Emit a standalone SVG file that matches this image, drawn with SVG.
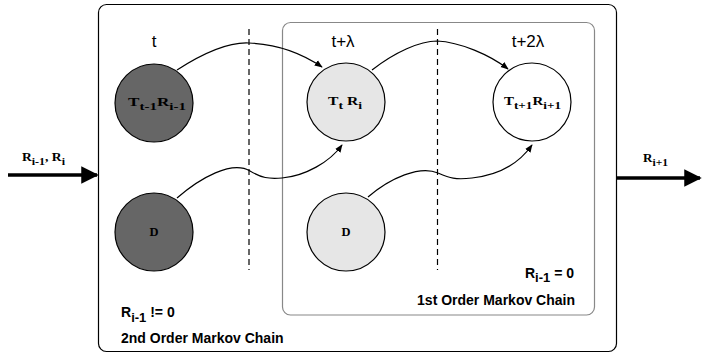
<svg xmlns="http://www.w3.org/2000/svg" width="702" height="356" viewBox="0 0 702 356">
<style>
.node{stroke:#000;stroke-width:1.2}
.dark{fill:#666}
.light{fill:#e6e6e6}
.white{fill:#fff}
.nl{font-family:"Liberation Serif",serif;font-weight:bold;font-size:12.5px;fill:#000}
.sub{font-size:11px}
.time{font-family:"Liberation Sans",Arial,sans-serif;font-size:17px;fill:#000}
.cap{font-family:"Liberation Sans",Arial,sans-serif;font-weight:bold;font-size:14px;fill:#000}
.csub{font-size:13px}
.edge{fill:none;stroke:#000;stroke-width:1.2}
.io{fill:none;stroke:#000;stroke-width:3.5}
.dash{stroke:#000;stroke-width:1.2;stroke-dasharray:6,4}
</style>
<defs>
<marker id="ah" viewBox="0 0 10 10" refX="9" refY="5" markerWidth="8" markerHeight="8" markerUnits="userSpaceOnUse" orient="auto">
<path d="M0,1 L10,5 L0,9 z" fill="#000"/>
</marker>
<marker id="big" viewBox="0 0 10 10" refX="9" refY="5" markerWidth="5" markerHeight="5" orient="auto">
<path d="M0,0 L10,5 L0,10 z" fill="#000"/>
</marker>
</defs>
<g id="outer-box">
<rect x="98.5" y="4.5" width="518" height="347" rx="8" fill="#fff" stroke="#000" stroke-width="1.2"/>
</g>
<g id="inner-box">
<rect x="282.5" y="22.5" width="312" height="292.5" rx="8" fill="none" stroke="#888" stroke-width="1.2"/>
</g>
<g id="dividers">
<line class="dash" x1="249" y1="29" x2="249" y2="270"/>
<line class="dash" x1="437.5" y1="29" x2="437.5" y2="270"/>
</g>
<g id="time-labels">
<text class="time" x="154" y="47" text-anchor="middle">t</text>
<text class="time" x="343" y="47" text-anchor="middle">t+λ</text>
<text class="time" x="528" y="47" text-anchor="middle">t+2λ</text>
</g>
<g id="node-T1">
<circle class="node dark" cx="154" cy="103" r="39"/>
<text class="nl" x="128" y="106" textLength="58" lengthAdjust="spacingAndGlyphs">T<tspan class="sub" dy="4">t-1</tspan><tspan dy="-4">R</tspan><tspan class="sub" dy="4">i-1</tspan></text>
</g>
<g id="node-D1">
<circle class="node dark" cx="154" cy="232" r="39"/>
<text class="nl" x="154" y="236" text-anchor="middle">D</text>
</g>
<g id="node-T2">
<circle class="node light" cx="346" cy="102" r="39"/>
<text class="nl" x="328" y="105" textLength="34" lengthAdjust="spacingAndGlyphs">T<tspan class="sub" dy="4">t</tspan><tspan dy="-4"> R</tspan><tspan class="sub" dy="4">i</tspan></text>
</g>
<g id="node-D2">
<circle class="node light" cx="346" cy="232" r="39"/>
<text class="nl" x="346" y="236" text-anchor="middle">D</text>
</g>
<g id="node-T3">
<circle class="node white" cx="532" cy="102" r="39"/>
<text class="nl" x="504" y="105" textLength="57" lengthAdjust="spacingAndGlyphs">T<tspan class="sub" dy="4">t+1</tspan><tspan dy="-4">R</tspan><tspan class="sub" dy="4">i+1</tspan></text>
</g>
<g id="connectors">
<path class="edge" marker-end="url(#ah)" d="M177,70 C205,52 230,42 249,43 C275,44 300,52 322,67"/>
<path class="edge" marker-end="url(#ah)" d="M372,70 C395,52 420,41 437,41 C460,42 490,55 508,69"/>
<path class="edge" marker-end="url(#ah)" d="M177,198 C200,178 232,160 250,171 C262,178 268,179 282,178 C305,176 330,162 342,145"/>
<path class="edge" marker-end="url(#ah)" d="M368,197 C390,178 420,165 438,173 C450,178 455,180 472,178 C500,175 520,162 532,145"/>
<path class="io" marker-end="url(#big)" d="M8,175 L97,175"/>
<path class="io" marker-end="url(#big)" d="M617,178 L700,178"/>
</g>
<g id="io-labels">
<text class="nl" x="22" y="161" textLength="43" lengthAdjust="spacingAndGlyphs">R<tspan class="sub" dy="4">i-1</tspan><tspan dy="-4">, R</tspan><tspan class="sub" dy="4">i</tspan></text>
<text class="nl" x="643" y="162" textLength="25" lengthAdjust="spacingAndGlyphs">R<tspan class="sub" dy="4">i+1</tspan></text>
</g>
<g id="captions">
<text class="cap" x="574" y="278" text-anchor="end">R<tspan class="csub" dy="4">i-1</tspan><tspan dy="-4"> = 0</tspan></text>
<text class="cap" x="575" y="305" text-anchor="end">1st Order Markov Chain</text>
<text class="cap" x="121" y="317">R<tspan class="csub" dy="5">i-1</tspan><tspan dy="-5"> != 0</tspan></text>
<text class="cap" x="121" y="343">2nd Order Markov Chain</text>
</g>
</svg>
